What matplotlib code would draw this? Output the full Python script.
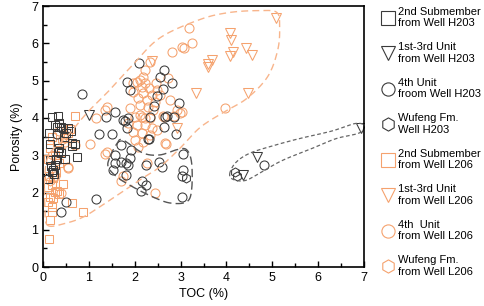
import numpy as np
import matplotlib
matplotlib.use("Agg")
import matplotlib.pyplot as plt
from matplotlib.lines import Line2D

plt.rcParams['font.family'] = ['Liberation Sans', 'DejaVu Sans']

# --- Well H203 (dark grey) ---
h203_sub2_toc = [0.13, 0.15, 0.20, 0.25, 0.30, 0.33, 0.35, 0.39, 0.43, 0.45, 0.50, 0.55, 0.60, 0.63,
                 0.64, 0.70, 0.74, 0.48, 0.33, 0.28, 0.15, 0.26, 0.22, 0.24, 0.19, 0.11, 0.32, 0.40, 0.35, 0.18]
h203_sub2_por = [3.60, 3.30, 4.03, 3.82, 3.77, 4.06, 3.87, 3.77, 3.73, 3.50, 3.60, 3.73, 3.65, 3.33,
                 3.25, 3.30, 2.96, 2.90, 3.12, 2.90, 2.88, 2.74, 2.60, 2.50, 2.56, 2.37, 3.10, 3.05, 3.20, 2.70]

h203_unit13_toc = [1.00, 4.66, 4.36, 6.93]
h203_unit13_por = [4.08, 2.96, 2.47, 3.73]

h203_unit4_toc = [0.85, 2.09, 2.64, 2.55, 2.81, 1.83, 1.90, 2.62, 2.48, 2.96, 2.42, 2.70, 2.33, 2.64, 2.90,
                  2.31, 1.37, 1.57, 1.74, 1.85, 1.83, 1.22, 1.50, 1.70, 1.92, 3.05, 1.57, 0.50, 0.39, 1.15,
                  1.53, 1.70, 1.81, 1.90, 1.85, 1.81, 1.57, 2.16, 2.24, 2.13, 2.52, 2.60, 3.05, 3.03, 3.03,
                  1.79, 2.29, 2.66, 2.85, 2.25, 4.81, 0.30]
h203_unit4_por = [4.65, 5.48, 5.30, 5.11, 4.95, 4.97, 4.76, 4.78, 4.60, 4.41, 4.33, 4.04, 4.03, 3.76, 3.58,
                  3.44, 4.03, 4.17, 3.95, 4.00, 3.73, 3.58, 3.58, 3.28, 3.15, 3.04, 3.01, 1.75, 1.48, 1.83,
                  2.61, 2.82, 2.80, 2.93, 2.74, 2.47, 2.80, 2.31, 2.20, 2.04, 2.82, 2.69, 2.60, 2.45, 1.88,
                  3.92, 3.44, 4.03, 4.03, 2.75, 2.74, 3.58]

h203_wufeng_toc = [4.18, 4.24, 3.12]
h203_wufeng_por = [2.55, 2.45, 2.40]

# --- Well L206 (orange) ---
l206_sub2_toc = [0.14, 0.15, 0.19, 0.88, 0.63, 0.19, 0.15, 0.22, 0.26, 0.30, 0.44, 0.11, 0.20, 0.22, 0.12,
                 0.28, 0.18, 0.35, 0.10, 0.25, 0.40, 0.15, 0.30, 0.45, 0.20, 0.55, 0.70, 0.59, 0.35, 0.10]
l206_sub2_por = [0.75, 1.26, 1.48, 1.48, 1.72, 1.61, 1.88, 1.85, 2.02, 2.05, 2.23, 2.15, 2.20, 2.39, 2.45,
                 2.55, 2.70, 2.80, 2.90, 3.00, 3.10, 3.20, 3.35, 3.45, 3.50, 3.60, 4.05, 3.71, 1.95, 1.75]

l206_unit13_toc = [5.08, 4.07, 4.11, 4.14, 4.07, 4.42, 4.55, 3.68, 3.60, 3.60, 3.33, 4.47, 2.37, 2.92]
l206_unit13_por = [6.67, 6.29, 6.08, 5.78, 5.65, 5.89, 5.70, 5.56, 5.46, 5.38, 4.68, 4.68, 5.54, 3.74]

l206_unit4_toc = [3.18, 3.25, 3.07, 2.81, 2.33, 2.73, 2.18, 3.03, 2.05, 2.22, 2.46, 2.16, 2.31, 2.48, 1.96,
                  2.18, 2.37, 2.55, 2.07, 2.27, 2.44, 2.11, 2.29, 2.77, 3.03, 2.92, 1.90, 2.40, 2.11, 2.61,
                  2.22, 2.00, 2.16, 2.33, 1.86, 2.05, 2.22, 2.37, 1.96, 2.16, 2.33, 2.48, 2.00, 2.18, 2.07,
                  2.66, 2.98, 1.74, 1.35, 1.02, 1.39, 0.54, 1.35, 2.68, 2.26, 2.44, 1.70, 3.96, 2.85, 2.64,
                  0.70, 1.15, 1.39, 2.22, 2.11, 1.96, 0.35, 0.48, 0.55, 0.25, 0.40]
l206_unit4_por = [6.42, 6.02, 5.89, 5.78, 5.51, 5.08, 5.11, 5.91, 4.97, 4.95, 4.95, 4.84, 4.81, 4.76, 4.70,
                  4.68, 4.62, 4.62, 4.54, 4.49, 4.44, 4.35, 4.30, 4.49, 4.17, 4.22, 4.27, 4.22, 4.09, 4.06,
                  4.00, 4.03, 4.03, 4.00, 3.87, 3.82, 3.82, 3.74, 3.63, 3.60, 3.55, 3.68, 3.41, 3.36, 3.23,
                  3.33, 4.14, 2.45, 4.22, 3.31, 3.10, 2.69, 3.04, 3.31, 2.80, 1.99, 2.30, 4.27, 4.06, 4.03,
                  3.28, 4.00, 4.30, 5.30, 5.03, 4.95, 3.65, 3.35, 2.65, 2.45, 2.00]

l206_wufeng_toc = [0.15, 0.30, 0.42, 0.20, 0.50]
l206_wufeng_por = [2.30, 2.85, 3.40, 3.00, 3.55]

# envelope outlines (closed curves)
env_orange_x = [0.10, 0.50, 0.87, 1.24, 1.68, 2.11, 2.55, 2.98, 3.42, 3.92, 4.44, 4.90, 5.12, 5.16,
                5.10, 4.73, 4.07, 3.42, 2.55, 1.96, 1.46, 0.96, 0.52, 0.15, 0.04, 0.04]
env_orange_y = [1.12, 1.18, 1.34, 1.62, 1.98, 2.34, 2.69, 3.18, 3.74, 4.14, 4.52, 5.11, 5.83, 6.45,
                6.83, 6.88, 6.83, 6.64, 6.15, 5.43, 4.76, 4.14, 3.50, 3.06, 2.53, 1.61]
env_black_x = [1.46, 1.61, 1.74, 2.18, 2.55, 2.92, 3.13, 3.24, 3.24, 3.13, 2.77, 2.40, 1.96, 1.61, 1.42]
env_black_y = [2.96, 3.31, 3.41, 3.06, 3.01, 3.15, 3.15, 2.80, 2.07, 1.75, 1.72, 1.88, 2.15, 2.42, 2.69]
env_grey_x = [4.07, 4.20, 4.50, 5.00, 5.60, 6.30, 6.80, 7.00, 6.90, 6.40, 5.90, 5.20, 4.70, 4.40, 4.15]
env_grey_y = [2.50, 2.80, 3.05, 3.25, 3.45, 3.65, 3.85, 3.80, 3.60, 3.45, 3.20, 2.85, 2.50, 2.32, 2.35]

legend_labels = ["2nd Submember\nfrom Well H203", "1st-3rd Unit\nfrom Well H203",
                 "4th Unit\nfroom Well H203", "Wufeng Fm.\nWell H203",
                 "2nd Submember\nfrom Well L206", "1st-3rd Unit\nfrom Well L206",
                 "4th  Unit\nfrom Well L206", "Wufeng Fm.\nfrom Well L206"]

DARK = '#3a3a3a'
ORANGE = '#f5a26e'


def closed_spline(xs, ys, n=20):
    """Catmull-Rom closed curve through control points"""
    p = np.column_stack([xs, ys])
    m = len(p)
    out = []
    t = np.linspace(0, 1, n, endpoint=False)[:, None]
    for i in range(m):
        p0, p1, p2, p3 = p[i - 1], p[i], p[(i + 1) % m], p[(i + 2) % m]
        seg = 0.5 * ((2 * p1) + (-p0 + p2) * t + (2 * p0 - 5 * p1 + 4 * p2 - p3) * t ** 2
                     + (-p0 + 3 * p1 - 3 * p2 + p3) * t ** 3)
        out.append(seg)
    out = np.vstack(out)
    out = np.vstack([out, out[:1]])
    return out[:, 0], out[:, 1]


fig = plt.figure(figsize=(4.84, 3.06), dpi=100)
ax = fig.add_axes([0.089, 0.127, 0.663, 0.853])

ms = 6.5
mew = 0.75
ax.plot(l206_unit4_toc, l206_unit4_por, 'o', ms=ms, mfc='none', mec=ORANGE, mew=mew)
ax.plot(l206_sub2_toc, l206_sub2_por, 's', ms=ms - 0.5, mfc='none', mec=ORANGE, mew=mew)
ax.plot(l206_unit13_toc, l206_unit13_por, 'v', ms=ms, mfc='none', mec=ORANGE, mew=mew)
ax.plot(l206_wufeng_toc, l206_wufeng_por, 'h', ms=ms, mfc='none', mec=ORANGE, mew=mew)
ax.plot(h203_unit4_toc, h203_unit4_por, 'o', ms=ms, mfc='none', mec=DARK, mew=mew)
ax.plot(h203_sub2_toc, h203_sub2_por, 's', ms=ms - 0.5, mfc='none', mec=DARK, mew=mew)
ax.plot(h203_unit13_toc, h203_unit13_por, 'v', ms=ms, mfc='none', mec=DARK, mew=mew)
ax.plot(h203_wufeng_toc, h203_wufeng_por, 'h', ms=ms, mfc='none', mec=DARK, mew=mew)

ex, ey = closed_spline(env_orange_x, env_orange_y)
ax.plot(ex, ey, color='#f8b58c', lw=1.0, ls=(0, (5, 3)))
ex, ey = closed_spline(env_black_x, env_black_y)
ax.plot(ex, ey, color='#555555', lw=1.0, ls=(0, (6, 3)))
ex, ey = closed_spline(env_grey_x, env_grey_y)
ax.plot(ex, ey, color='#666666', lw=0.9, ls=(0, (3, 2)))

ax.set_xlim(0, 7)
ax.set_ylim(0, 7)
ax.set_xticks(range(0, 8))
ax.set_yticks(range(0, 8))
ax.set_xticks(np.arange(0.5, 7, 1), minor=True)
ax.set_yticks(np.arange(0.5, 7, 1), minor=True)
ax.tick_params(which='both', direction='in', labelsize=9, width=1.0)
ax.tick_params(which='major', length=4)
ax.tick_params(which='minor', length=3)
ax.set_xlabel('TOC (%)', fontsize=9, labelpad=3)
ax.set_ylabel('Porosity (%)', fontsize=9, labelpad=6)
for s in ax.spines.values():
    s.set_linewidth(1.2)

handles = []
for mk, col in [('s', DARK), ('v', DARK), ('o', DARK), ('h', DARK),
                ('s', ORANGE), ('v', ORANGE), ('o', ORANGE), ('h', ORANGE)]:
    handles.append(Line2D([], [], ls='none', marker=mk, ms=9.5, mfc='none', mec=col, mew=0.8))
fig.legend(handles, legend_labels, loc='upper left', bbox_to_anchor=(0.775, 1.0),
           frameon=False, fontsize=8, labelspacing=1.25, handletextpad=0.35,
           handlelength=1.1, borderaxespad=0.2)

fig.savefig('out.png', dpi=100)
